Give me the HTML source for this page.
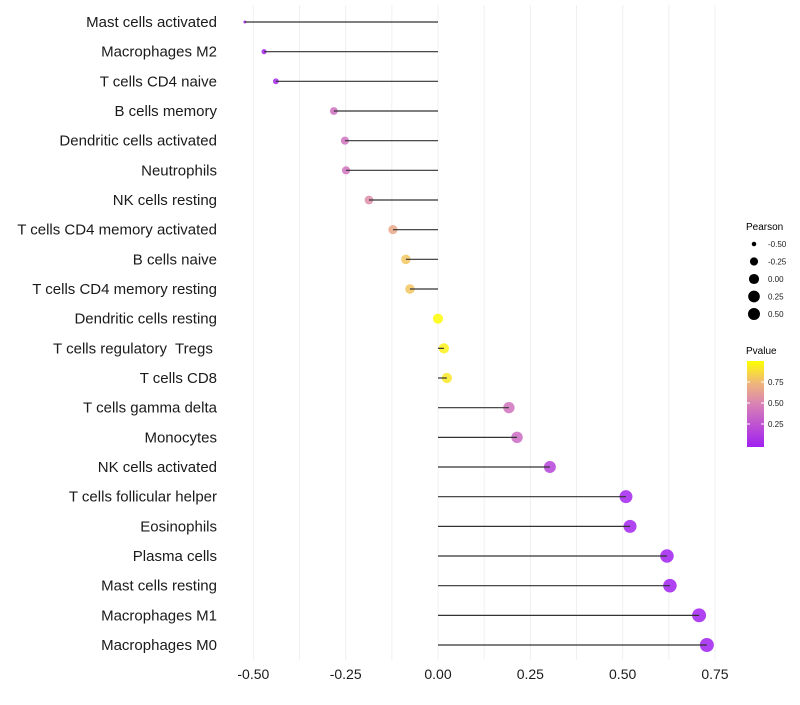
<!DOCTYPE html>
<html><head><meta charset="utf-8"><style>
body{margin:0;background:#fff;font-family:"Liberation Sans",sans-serif}
svg text{font-family:"Liberation Sans",sans-serif;white-space:pre}
</style></head><body>
<svg id="chart" width="800" height="700" xmlns="http://www.w3.org/2000/svg">
<defs><linearGradient id="pg" x1="0" y1="1" x2="0" y2="0">
<stop offset="0" stop-color="#A020F0"/><stop offset="0.5" stop-color="#D982B5"/><stop offset="0.75" stop-color="#F0B878"/><stop offset="1" stop-color="#FFFF00"/></linearGradient></defs>
<g id="grid"></g><g id="marks"></g><g id="labels"></g>
<g>
<text x="746" y="230" font-size="10" fill="#000">Pearson</text>
<g id="sizeLegend"></g>
<text x="746" y="354" font-size="10" fill="#000">Pvalue</text>
<rect x="747" y="361" width="17" height="86" fill="url(#pg)"/>
<g id="cbTicks"></g>
</g>
</svg>
<script>
const categories=["Mast cells activated","Macrophages M2","T cells CD4 naive","B cells memory","Dendritic cells activated","Neutrophils","NK cells resting","T cells CD4 memory activated","B cells naive","T cells CD4 memory resting","Dendritic cells resting","T cells regulatory  Tregs ","T cells CD8","T cells gamma delta","Monocytes","NK cells activated","T cells follicular helper","Eosinophils","Plasma cells","Mast cells resting","Macrophages M1","Macrophages M0"];
const pearson=[-0.523,-0.471,-0.439,-0.282,-0.252,-0.249,-0.187,-0.122,-0.087,-0.076,0.0,0.016,0.024,0.192,0.214,0.303,0.509,0.520,0.620,0.628,0.707,0.728];
const pvalue=[0.02,0.03,0.04,0.4,0.42,0.42,0.55,0.68,0.8,0.8,0.99,0.95,0.92,0.42,0.38,0.18,0.02,0.02,0.01,0.01,0.005,0.003];
const xTicks=[-0.5,-0.25,0,0.25,0.5,0.75];
const xTickLabels=["-0.50","-0.25","0.00","0.25","0.50","0.75"];
const sizeLegendVals=[-0.5,-0.25,0,0.25,0.5];
const sizeLegendLabels=["-0.50","-0.25","0.00","0.25","0.50"];
const cbVals=[0.75,0.5,0.25];
const cbLabels=["0.75","0.50","0.25"];
const NS="http://www.w3.org/2000/svg";
const X=v=>438+v*369.3;
const Y=i=>22+i*29.667;
const R=v=>1.5+5.5*Math.sqrt(Math.max(0,(v+0.523)/1.251));
function mk(t,a,p){const e=document.createElementNS(NS,t);for(const k in a)e.setAttribute(k,a[k]);p.appendChild(e);return e;}
function lerp(a,b,t){return a.map((x,i)=>Math.round(x+(b[i]-x)*t));}
function col(p){const s=[[0,[160,32,240]],[0.5,[217,130,181]],[0.75,[240,184,120]],[1,[255,255,0]]];
for(let i=1;i<s.length;i++){if(p<=s[i][0]){const t=(p-s[i-1][0])/(s[i][0]-s[i-1][0]);const c=lerp(s[i-1][1],s[i][1],t);return`rgb(${c})`;}}return"rgb(255,255,0)";}
const grid=document.getElementById("grid");
for(let v=-0.5;v<=0.751;v+=0.125){const g=mk("line",{x1:X(v),x2:X(v),y1:5,y2:660,stroke:"#f0f0f0","stroke-width":1},grid);
}
const marks=document.getElementById("marks"),labels=document.getElementById("labels");
categories.forEach((c,i)=>{
const p=mk("circle",{cx:X(pearson[i]),cy:Y(i),r:R(pearson[i]),fill:col(pvalue[i]),"fill-opacity":0.85},marks);

const l=mk("line",{x1:X(0),x2:X(pearson[i]),y1:Y(i),y2:Y(i),stroke:"#333","stroke-width":1.2},marks);

const t=mk("text",{x:217,y:Y(i)+5,"text-anchor":"end","font-size":15,fill:"#1a1a1a"},labels);t.textContent=c;

});
xTicks.forEach((v,i)=>{const t=mk("text",{x:X(v),y:679,"text-anchor":"middle","font-size":14,fill:"#1a1a1a"},labels);t.textContent=xTickLabels[i];
});
const sl=document.getElementById("sizeLegend");
sizeLegendVals.forEach((v,i)=>{const y=244+i*17.5;
const c=mk("circle",{cx:754,cy:y,r:Math.min(6,R(v)),fill:"#000"},sl);

const t=mk("text",{x:768,y:y+3,"font-size":8,fill:"#1a1a1a"},sl);t.textContent=sizeLegendLabels[i];
});
const cb=document.getElementById("cbTicks");
cbVals.forEach((v,i)=>{const y=445-v*84;
mk("line",{x1:747,x2:750,y1:y,y2:y,stroke:"#fff"},cb);mk("line",{x1:761,x2:764,y1:y,y2:y,stroke:"#fff"},cb);
const t=mk("text",{x:768,y:y+3,"font-size":8,fill:"#1a1a1a"},cb);t.textContent=cbLabels[i];
});
</script>
</body></html>
